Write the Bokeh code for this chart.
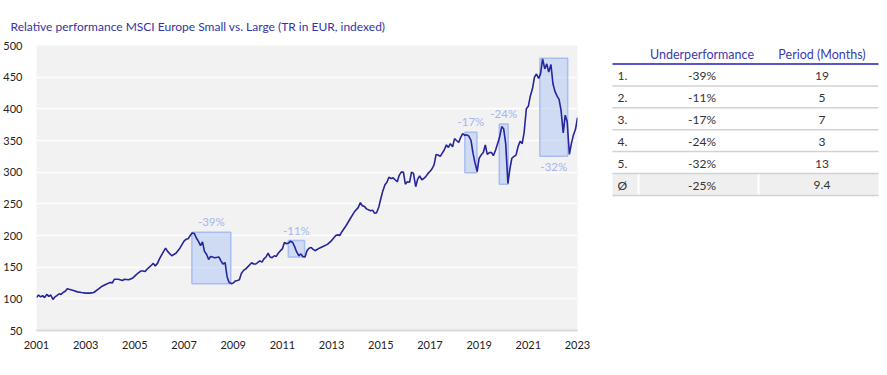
from bokeh.plotting import figure
from bokeh.layouts import row
from bokeh.models import ColumnDataSource, Range1d, FixedTicker
from bokeh.core.properties import value
from bokeh.embed import file_html
from bokeh.resources import INLINE

# ---------------- data ----------------
years = [2001.0, 2001.08, 2001.17, 2001.25, 2001.33, 2001.42, 2001.5, 2001.58, 2001.67, 2001.75,
         2001.83, 2001.92, 2002.0, 2002.08, 2002.17, 2002.25, 2002.33, 2002.5, 2002.67, 2002.83,
         2003.0, 2003.17, 2003.33, 2003.5, 2003.67, 2003.83, 2004.0, 2004.08, 2004.17, 2004.33,
         2004.5, 2004.58, 2004.75, 2004.92, 2005.08, 2005.25, 2005.33, 2005.42, 2005.5, 2005.67,
         2005.75, 2005.83, 2005.92, 2006.0, 2006.17, 2006.25, 2006.33, 2006.5, 2006.67, 2006.83,
         2007.0, 2007.08, 2007.17, 2007.25, 2007.33, 2007.42, 2007.5, 2007.58, 2007.67, 2007.75,
         2007.83, 2007.92, 2008.0, 2008.08, 2008.25, 2008.42, 2008.5, 2008.58, 2008.67, 2008.75,
         2008.83, 2008.92, 2009.0, 2009.08, 2009.17, 2009.25, 2009.33, 2009.42, 2009.5, 2009.58,
         2009.75, 2009.83, 2009.92, 2010.08, 2010.17, 2010.25, 2010.33, 2010.42, 2010.5, 2010.58,
         2010.67, 2010.75, 2010.83, 2010.92, 2011.0, 2011.08, 2011.17, 2011.25, 2011.33, 2011.42,
         2011.5, 2011.58, 2011.67, 2011.75, 2011.83, 2011.92, 2012.0, 2012.08, 2012.17, 2012.25,
         2012.33, 2012.5, 2012.67, 2012.83, 2013.0, 2013.17, 2013.25, 2013.33, 2013.42, 2013.58,
         2013.75, 2013.92, 2014.08, 2014.17, 2014.25, 2014.33, 2014.42, 2014.58, 2014.67, 2014.75,
         2014.83, 2014.92, 2015.0, 2015.08, 2015.17, 2015.25, 2015.33, 2015.42, 2015.5, 2015.58,
         2015.67, 2015.75, 2015.83, 2015.92, 2016.0, 2016.08, 2016.17, 2016.25, 2016.33, 2016.42,
         2016.5, 2016.58, 2016.67, 2016.75, 2016.83, 2016.92, 2017.0, 2017.08, 2017.17, 2017.25,
         2017.33, 2017.42, 2017.5, 2017.58, 2017.67, 2017.75, 2017.83, 2017.92, 2018.0, 2018.08,
         2018.17, 2018.25, 2018.33, 2018.42, 2018.5, 2018.58, 2018.67, 2018.75, 2018.83, 2018.92,
         2019.0, 2019.08, 2019.17, 2019.25, 2019.33, 2019.42, 2019.5, 2019.58, 2019.67, 2019.75,
         2019.83, 2019.92, 2020.0, 2020.08, 2020.17, 2020.25, 2020.33, 2020.42, 2020.5, 2020.58,
         2020.67, 2020.75, 2020.83, 2020.92, 2021.0, 2021.08, 2021.17, 2021.25, 2021.33, 2021.42,
         2021.5, 2021.58, 2021.67, 2021.75, 2021.83, 2021.92, 2022.0, 2022.08, 2022.17, 2022.25,
         2022.33, 2022.42, 2022.5, 2022.58, 2022.67, 2022.75, 2022.83, 2022.92, 2023.0]
index_values = [102, 106, 103, 105, 102, 107, 104, 106, 99, 103,
                105, 108, 107, 110, 112, 116, 115, 113, 111, 110,
                109, 109, 110, 115, 120, 123, 126, 125, 131, 131,
                129, 131, 130, 133, 139, 144, 144, 143, 147, 153,
                156, 152, 156, 163, 175, 180, 175, 168, 172, 180,
                191, 194, 195, 200, 204, 203, 196, 191, 184, 190,
                175, 170, 162, 167, 165, 166, 160, 155, 157, 135,
                126, 124, 125, 128, 129, 130, 140, 145, 147, 150,
                157, 155, 155, 160, 158, 163, 166, 172, 166, 165,
                168, 167, 172, 176, 179, 189, 187, 188, 191, 189,
                182, 174, 168, 171, 167, 166, 176, 180, 181, 178,
                176, 180, 183, 186, 192, 200, 201, 200, 206, 215,
                226, 237, 244, 252, 247, 246, 242, 239, 240, 235,
                236, 245, 258, 270, 280, 284, 292, 290, 291, 288,
                285, 295, 300, 300, 281, 285, 284, 300, 298, 277,
                289, 294, 288, 290, 293, 298, 301, 305, 312, 328,
                327, 325, 330, 335, 343, 339, 345, 340, 353, 350,
                347, 355, 361, 358, 359, 357, 350, 330, 315, 301,
                322, 327, 331, 343, 328, 331, 331, 326, 335, 345,
                355, 372, 368, 345, 282, 305, 322, 325, 327, 340,
                349, 345, 363, 400, 404, 420, 432, 450, 455, 448,
                456, 479, 463, 471, 458, 470, 440, 428, 420, 415,
                398, 362, 390, 380, 328, 345, 358, 368, 386]

# drawdown periods (boxes)
dd_start = [2007.32, 2011.24, 2018.42, 2019.82, 2021.47]
dd_end = [2008.90, 2011.90, 2018.91, 2020.18, 2022.60]
dd_peak = [205, 192, 363, 376, 480]
dd_trough = [124, 166, 299, 281, 325]
dd_label = ["-39%", "-11%", "-17%", "-24%", "-32%"]
dd_label_side = ["above", "above", "above", "above", "below"]

# table
table_header = ["Underperformance", "Period (Months)"]
table_rank = ["1.", "2.", "3.", "4.", "5."]
table_under = ["-39%", "-11%", "-17%", "-24%", "-32%"]
table_period = ["19", "5", "7", "3", "13"]
avg_row = ["Ø", "-25%", "9.4"]

y_ticks = list(range(50, 501, 50))
x_ticks = list(range(2001, 2024, 2))

TITLE = "Relative performance MSCI Europe Small vs. Large (TR in EUR, indexed)"
FONT = "Lato"
BORDER_TOP, BORDER_BOTTOM = 45, 45
HEIGHT = 375

# ---------------- chart ----------------
p = figure(width=600, height=HEIGHT, x_range=Range1d(2001, 2023), y_range=Range1d(50, 500),
           output_backend="svg", toolbar_location=None,
           min_border_left=33, min_border_right=23,
           min_border_top=BORDER_TOP, min_border_bottom=BORDER_BOTTOM)
p.title.text = TITLE
p.title.text_font = FONT
p.title.text_font_size = "12px"
p.title.text_font_style = "normal"
p.title.text_color = "#3434a6"
p.title.align = "left"
p.title.offset = -26
p.title.standoff = 23

p.background_fill_color = "#f2f2f2"
p.border_fill_color = "white"
p.outline_line_color = None

p.xaxis.ticker = FixedTicker(ticks=x_ticks)
p.yaxis.ticker = FixedTicker(ticks=y_ticks)
for ax in (p.xaxis[0], p.yaxis[0]):
    ax.major_tick_line_color = None
    ax.minor_tick_line_color = None
    ax.major_label_text_font = FONT
    ax.major_label_text_font_size = "11px"
    ax.major_label_text_color = "#222222"
p.yaxis.axis_line_color = None
p.yaxis.major_label_standoff = 8
p.xaxis.axis_line_color = "#d9d9d9"
p.xaxis.axis_line_width = 2
p.xaxis.major_label_standoff = 4

p.xgrid.grid_line_color = None
p.ygrid.grid_line_color = "white"
p.ygrid.grid_line_width = 1.5

dd_src = ColumnDataSource(dict(left=dd_start, right=dd_end, top=dd_peak, bottom=dd_trough))
p.quad(left="left", right="right", top="top", bottom="bottom", source=dd_src,
       fill_color="#b3c6f4", fill_alpha=0.55, line_color="#a9bdf0", line_width=1.5)

lab_x = [(a + b) / 2 for a, b in zip(dd_start, dd_end)]
lab_y = [t if s == "above" else b for t, b, s in zip(dd_peak, dd_trough, dd_label_side)]
lab_off = [-4 if s == "above" else 4 for s in dd_label_side]
lab_base = ["bottom" if s == "above" else "top" for s in dd_label_side]
p.text(x=lab_x, y=lab_y, text=dd_label, y_offset=lab_off, text_baseline=lab_base,
       text_align="center", text_font=value(FONT), text_font_size="11.5px", text_color="#a4b6ee")

p.line(years, index_values, line_color="#25259c", line_width=1.6)

# ---------------- table ----------------
# the row layout aligns frame borders, so use the same top/bottom borders and
# map the table's y range to the page's pixel rows
t = figure(width=287, height=HEIGHT, x_range=Range1d(600, 887),
           y_range=Range1d(HEIGHT - BORDER_BOTTOM, BORDER_TOP),
           output_backend="svg", toolbar_location=None,
           min_border_left=0, min_border_right=0,
           min_border_top=BORDER_TOP, min_border_bottom=BORDER_BOTTOM,
           x_axis_location=None, y_axis_location=None)
t.grid.visible = False
t.outline_line_color = None
t.background_fill_color = "white"
t.border_fill_color = "white"

tx0, tx1 = 612, 878
col_rank, col_under, col_period = 617, 701.5, 821.5
header_y = 54
row_top = 63.5
row_h = 21.9
n = len(table_rank)

t.text(x=[col_under, col_period], y=[header_y, header_y], text=table_header,
       text_align="center", text_baseline="middle", text_font=value(FONT),
       text_font_size="12.5px", text_color="#3b3bb0")
t.segment(x0=[tx0], x1=[tx1], y0=[row_top], y1=[row_top], line_color="#5656c8", line_width=2)

# average row background
avg_top = row_top + row_h * n
t.quad(left=[tx0], right=[tx1], top=[avg_top], bottom=[avg_top + row_h], fill_color="#efefef", line_color=None)
t.segment(x0=[638, 758], x1=[638, 758], y0=[avg_top] * 2, y1=[avg_top + row_h] * 2,
          line_color="white", line_width=2)

sep_y = [row_top + row_h * (i + 1) for i in range(n + 1)]
t.segment(x0=[tx0] * len(sep_y), x1=[tx1] * len(sep_y), y0=sep_y, y1=sep_y,
          line_color="#d2d2d2", line_width=1.5)

centers = [row_top + row_h * (i + 0.5) + 1 for i in range(n + 1)]
ranks = table_rank + [avg_row[0]]
unders = table_under + [avg_row[1]]
periods = table_period + [avg_row[2]]
common = dict(text_baseline="middle", text_font=value(FONT), text_font_size="12px", text_color="#333333")
t.text(x=[col_rank] * len(ranks), y=centers, text=ranks, text_align="left", **common)
t.text(x=[col_under] * len(unders), y=centers, text=unders, text_align="center", **common)
t.text(x=[col_period] * len(periods), y=centers, text=periods, text_align="center", **common)

layout = row(p, t)
open("out.html", "w").write(file_html(layout, INLINE))
